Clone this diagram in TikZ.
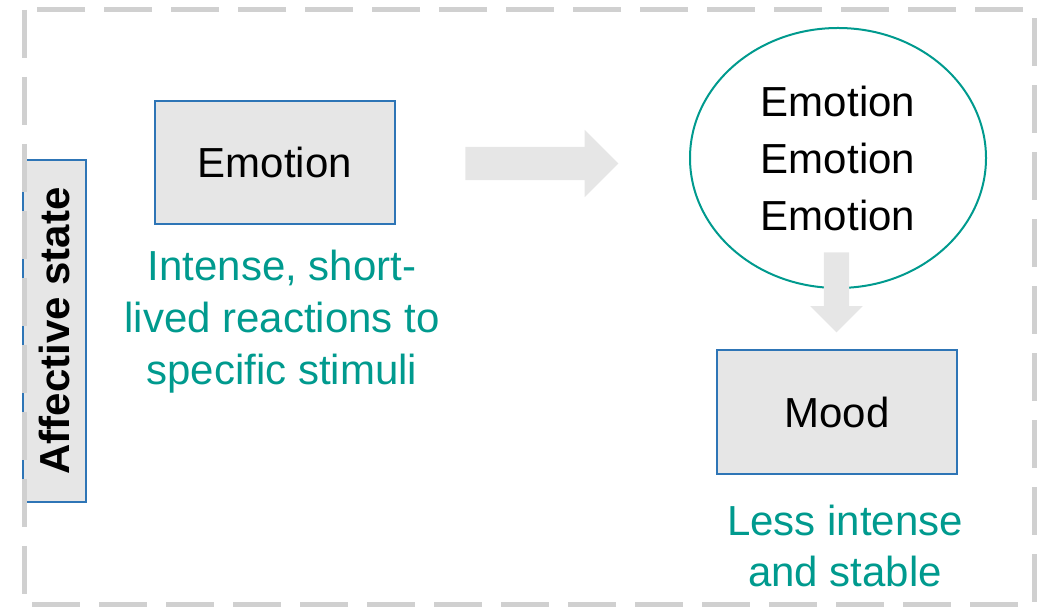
\documentclass[tikz,border=0pt]{standalone}
\usepackage{fontspec}
\setmainfont{Liberation Sans}
\usetikzlibrary{shapes.geometric,shapes.arrows}

\definecolor{boxfill}{HTML}{E6E6E6}
\definecolor{boxline}{HTML}{2E75B6}
\definecolor{teal}{HTML}{009A8E}
\definecolor{framegray}{HTML}{D0D0D0}

\begin{document}
\begin{tikzpicture}[x=1pt, y=1pt,
    box/.style = {draw=boxline, line width=2pt, fill=boxfill, inner sep=0pt, font=\fontsize{42}{52}\selectfont},
    note/.style = {text=teal, align=center, inner sep=0pt, font=\fontsize{42}{52}\selectfont},
    bigarrow/.style = {single arrow, fill=boxfill, inner sep=0pt, text depth=0pt}]
    \useasboundingbox (0,0) rectangle (1041,607);

    \node[box, minimum width=63pt, minimum height=342pt] (side) at (54.5,276) {};
    \node[rotate=90, font=\bfseries\fontsize{42}{52}\selectfont] (sidetext) at (side.center) {Affective state};

    \node[box, minimum width=240pt, minimum height=123pt] (emo) at (275,444.5) {Emotion};
    \node[note] (emonote) at (282,285) {Intense, short-\\lived reactions to\\specific stimuli};

    \node[bigarrow, text height=33pt, minimum height=153pt, minimum width=67pt, single arrow head extend=17pt] (arr1) at (533.5,443.5) {};

    \node[ellipse, draw=teal, line width=2pt, minimum width=296pt, minimum height=260pt, inner sep=0pt,
          align=center, font=\fontsize{42}{57}\selectfont] (many) at (838,449) {Emotion\\Emotion\\Emotion};

    \node[bigarrow, rotate=-90, text height=25pt, minimum height=80pt, minimum width=52pt, single arrow head extend=13.5pt] (arr2) at (836.5,321) {};

    \node[box, minimum width=240pt, minimum height=124pt] (mood) at (837,195) {Mood};
    \node[note, font=\fontsize{42}{51}\selectfont] (moodnote) at (845,61) {Less intense\\and stable};

    % dashed frame
    \draw[framegray, line width=5pt, dash pattern=on 48pt off 19pt] (24,597) rectangle (1034,2);
  \end{tikzpicture}
\end{document}
